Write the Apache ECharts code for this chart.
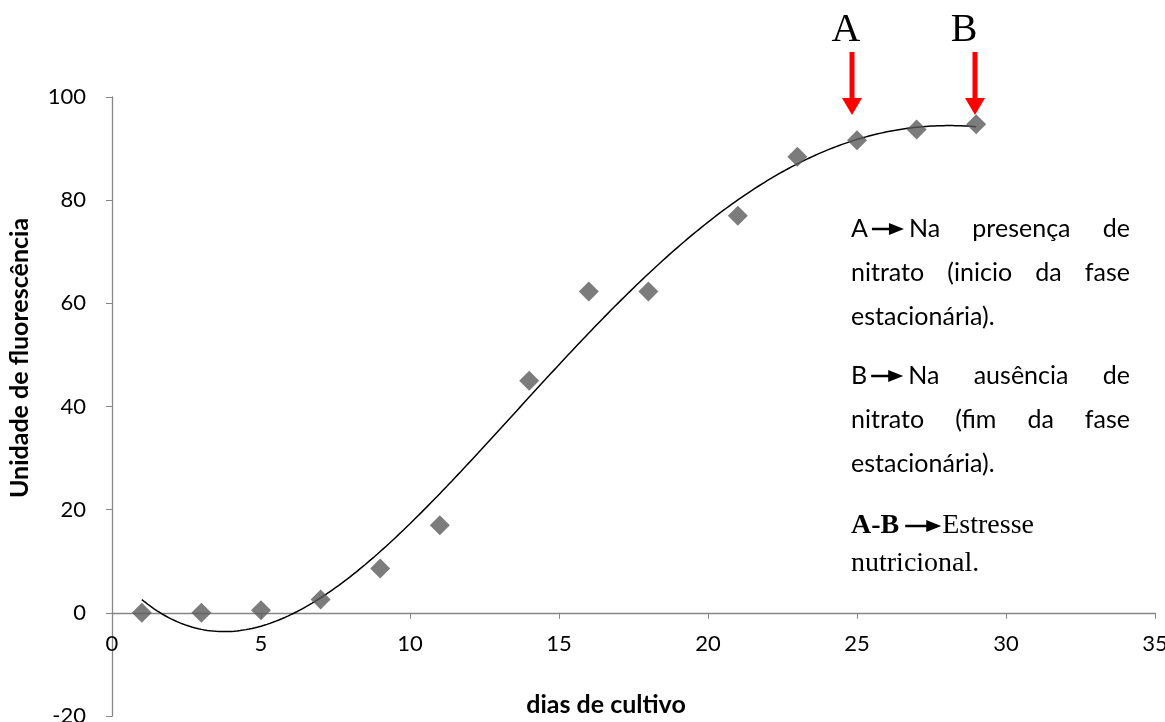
<!DOCTYPE html>
<html><head><meta charset="utf-8">
<script src="https://cdn.jsdelivr.net/npm/echarts@6/dist/echarts.min.js"></script>
<style>html,body{margin:0;padding:0;background:#fff}#c{width:1165px;height:722px}</style>
</head><body><div id="c"></div>
<script>
// ---- data ----
const days = [1, 3, 5, 7, 9, 11, 14, 16, 18, 21, 23, 25, 27, 29];
const fluorescence = [0, 0, 0.5, 2.6, 8.6, 17, 45, 62.3, 62.3, 77, 88.4, 91.6, 93.7, 94.7];
const xAxisRange = [0, 35, 5];
const yAxisRange = [-20, 100, 20];
const xTitle = 'dias de cultivo';
const yTitle = 'Unidade de fluorescência';
const trendOrder = 4;
const markA = 'A', markB = 'B';
const para1 = [['A→Na', 'presença', 'de'], ['nitrato', '(inicio', 'da', 'fase'], ['estacionária).']];
const para2 = [['B→Na', 'ausência', 'de'], ['nitrato', '(fim', 'da', 'fase'], ['estacionária).']];
const para3a = ['A-B', 'Estresse'];
const para3b = 'nutricional.';

// ---- least squares polynomial trendline (as Excel's trendline) ----
function polyfit(xs, ys, n) {
  const m = n + 1, A = [], b = [];
  for (let i = 0; i < m; i++) {
    A.push([]);
    for (let j = 0; j < m; j++) A[i].push(xs.reduce((s, x) => s + Math.pow(x, i + j), 0));
    b.push(xs.reduce((s, x, k) => s + ys[k] * Math.pow(x, i), 0));
  }
  for (let c = 0; c < m; c++) {
    let p = c;
    for (let r = c + 1; r < m; r++) if (Math.abs(A[r][c]) > Math.abs(A[p][c])) p = r;
    [A[c], A[p]] = [A[p], A[c]]; [b[c], b[p]] = [b[p], b[c]];
    for (let r = 0; r < m; r++) {
      if (r === c) continue;
      const f = A[r][c] / A[c][c];
      for (let k = c; k < m; k++) A[r][k] -= f * A[c][k];
      b[r] -= f * b[c];
    }
  }
  return b.map((v, i) => v / A[i][i]);
}
const coef = polyfit(days, fluorescence, trendOrder);
const trend = [];
for (let x = days[0]; x <= days[days.length - 1] + 1e-9; x += 0.1) {
  trend.push([x, coef.reduce((s, c, i) => s + c * Math.pow(x, i), 0)]);
}

// ---- text layout helpers ----
const ctx = document.createElement('canvas').getContext('2d');
function tw(t, font) { ctx.font = font; return ctx.measureText(t).width; }
const bodyFont = '25px Lato';
const serifFont = '28px "Liberation Serif"';
const serifBold = 'bold 28px "Liberation Serif"';
const textLeft = 851, textRight = 1130;
const graphics = [];

function addText(t, x, y, font, align) {
  graphics.push({ type: 'text', z: 10, style: { text: t, x: x, y: y, font: font, fill: '#000',
    textAlign: align || 'left', textVerticalAlign: 'middle', align: align || 'left', verticalAlign: 'middle' } });
}
function addInlineArrow(x, y, len) {
  graphics.push({ type: 'line', z: 10, shape: { x1: x, y1: y, x2: x + len - 10, y2: y }, style: { stroke: '#000', lineWidth: 2.5 } });
  graphics.push({ type: 'polygon', z: 10, shape: { points: [[x + len - 15, y - 6], [x + len, y], [x + len - 15, y + 6]] }, style: { fill: '#000' } });
}
const arrowGapL = 4, arrowLen = 32, arrowGapR = 5;
function tokenWidth(t, font) {
  if (t.indexOf('→') >= 0) {
    const [a, b] = t.split('→');
    return tw(a, font) + arrowGapL + arrowLen + arrowGapR + tw(b, font);
  }
  return tw(t, font);
}
function drawToken(t, x, y, font) {
  if (t.indexOf('→') >= 0) {
    const [a, b] = t.split('→');
    addText(a, x, y, font);
    const ax = x + tw(a, font) + arrowGapL;
    addInlineArrow(ax, y, arrowLen);
    addText(b, ax + arrowLen + arrowGapR, y, font);
  } else addText(t, x, y, font);
}
function justifiedLine(words, y, font, last) {
  if (last || words.length === 1) {
    let x = textLeft; const sp = tw(' ', font);
    words.forEach(w => { drawToken(w, x, y, font); x += tokenWidth(w, font) + sp; });
    return;
  }
  const total = words.reduce((s, w) => s + tokenWidth(w, font), 0);
  const gap = (textRight - textLeft - total) / (words.length - 1);
  let x = textLeft;
  words.forEach(w => { drawToken(w, x, y, font); x += tokenWidth(w, font) + gap; });
}
const p1y = [229, 273, 317], p2y = [376, 420, 464], p3y = [526, 564];
para1.forEach((l, i) => justifiedLine(l, p1y[i], bodyFont, i === para1.length - 1));
para2.forEach((l, i) => justifiedLine(l, p2y[i], bodyFont, i === para2.length - 1));
// A-B → Estresse (Times)
addText(para3a[0], textLeft, p3y[0], serifBold);
const abx = textLeft + tw(para3a[0], serifBold) + 6;
addInlineArrow(abx, p3y[0], 36);
addText(para3a[1], abx + 37, p3y[0], serifFont);
addText(para3b, textLeft, p3y[1], serifFont);

// A / B markers with red arrows
addText(markA, 846, 30, '40px "Liberation Serif"', 'center');
addText(markB, 964, 30, '40px "Liberation Serif"', 'center');
[852, 975].forEach(cx => {
  graphics.push({ type: 'rect', z: 10, shape: { x: cx - 2.5, y: 52, width: 5, height: 48 }, style: { fill: '#ff0000' } });
  graphics.push({ type: 'polygon', z: 10, shape: { points: [[cx - 10, 98], [cx + 10, 98], [cx, 115]] }, style: { fill: '#ff0000' } });
});
// axis titles
graphics.push({ type: 'text', z: 10, x: 20, y: 358, rotation: Math.PI / 2,
  style: { text: yTitle, font: 'bold 25px Lato', fill: '#000', textAlign: 'center', textVerticalAlign: 'middle', align: 'center', verticalAlign: 'middle' } });
addText(xTitle, 606, 705, 'bold 25px Lato', 'center');

// grid geometry: x-axis drawn at y = 0 by offsetting it up from the grid bottom
const gridTop = 97, gridBottom = 6, chartH = 722;
const plotH = chartH - gridTop - gridBottom;
const zeroOffset = plotH * (0 - yAxisRange[0]) / (yAxisRange[1] - yAxisRange[0]);

const axisColor = '#868686';
const chart = echarts.init(document.getElementById('c'));
chart.setOption({
  animation: false,
  backgroundColor: '#fff',
  grid: { left: 112, right: 10, top: gridTop, bottom: gridBottom, containLabel: false, outerBoundsMode: 'none' },
  xAxis: {
    type: 'value', min: xAxisRange[0], max: xAxisRange[1], interval: xAxisRange[2],
    position: 'bottom', offset: -zeroOffset,
    axisLine: { onZero: false, lineStyle: { color: axisColor, width: 1.3 } },
    axisTick: { show: true, inside: false, length: 6, lineStyle: { color: axisColor } },
    axisLabel: { color: '#000', fontFamily: 'Lato', fontSize: 22, margin: 20 },
    splitLine: { show: false }
  },
  yAxis: {
    type: 'value', min: yAxisRange[0], max: yAxisRange[1], interval: yAxisRange[2],
    axisLine: { show: true, onZero: false, lineStyle: { color: axisColor, width: 1.3 } },
    axisTick: { show: true, inside: false, length: 6, lineStyle: { color: axisColor } },
    axisLabel: { color: '#000', fontFamily: 'Lato', fontSize: 22, margin: 26 },
    splitLine: { show: false }
  },
  series: [
    { type: 'line', data: trend, showSymbol: false, smooth: false,
      lineStyle: { color: '#000', width: 1.5 }, z: 2, silent: true },
    { type: 'scatter', data: days.map((d, i) => [d, fluorescence[i]]), symbol: 'diamond',
      symbolSize: [20, 20], itemStyle: { color: '#5b5b5b' }, z: 3 }
  ],
  graphic: graphics
});
</script></body></html>
